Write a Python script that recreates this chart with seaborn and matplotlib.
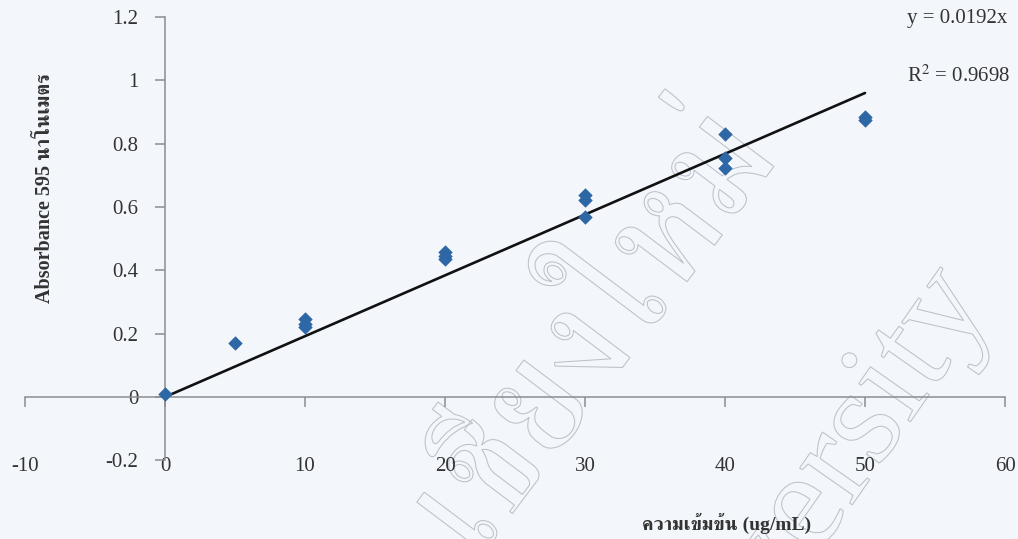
import numpy as np
import pandas as pd
import matplotlib
matplotlib.use("Agg")
import matplotlib.pyplot as plt
import seaborn as sns
from matplotlib import font_manager
from matplotlib.textpath import TextPath
from matplotlib.patches import PathPatch
from matplotlib.transforms import Affine2D, IdentityTransform

# Standard curve: protein concentration vs absorbance at 595 nm
concentration = [0, 5, 10, 10, 10, 20, 20, 20, 30, 30, 30, 40, 40, 40, 50, 50]
absorbance = [0.008, 0.17, 0.245, 0.232, 0.22, 0.458, 0.446, 0.436,
              0.638, 0.622, 0.568, 0.83, 0.755, 0.723, 0.884, 0.876]
slope = 0.0192
r_squared = 0.9698

x_ticks = [-10, 0, 10, 20, 30, 40, 50, 60]
y_ticks = [-0.2, 0, 0.2, 0.4, 0.6, 0.8, 1, 1.2]
x_tick_labels = ["-10", "0", "10", "20", "30", "40", "50", "60"]
y_tick_labels = ["-0.2", "0", "0.2", "0.4", "0.6", "0.8", "1", "1.2"]

x_title = "ความเข้มข้น (ug/mL)"
y_title = "Absorbance 595 นาโนเมตร"


def find_thai_family():
    try:
        from fontTools.ttLib import TTFont
    except Exception:
        return None
    sample = "ความเข้มข้นาโนเมตรชียงใหม่"
    found = []
    for entry in font_manager.fontManager.ttflist:
        try:
            f = TTFont(entry.fname, fontNumber=0, lazy=True)
            cmap = f.getBestCmap()
            if all(ord(c) in cmap for c in sample):
                found.append(entry.name)
        except Exception:
            continue
    if not found:
        return None
    serif = [n for n in found if "Serif" in n]
    return (serif or found)[0]


thai_family = find_thai_family()
serif_stack = ["Liberation Serif", "DejaVu Serif"]
mixed_stack = ["Liberation Serif"] + ([thai_family] if thai_family else []) + ["DejaVu Sans"]

sns.set_style("white")
bg = "#f3f6fb"
plt.rcParams["font.family"] = serif_stack
plt.rcParams["axes.unicode_minus"] = False
plt.rcParams["mathtext.fontset"] = "stix"

W, H = 1018, 539
fig = plt.figure(figsize=(W / 100, H / 100), dpi=100, facecolor=bg)
ax = fig.add_axes([25 / W, 1 - 460.3 / H, 980 / W, 443.3 / H])
ax.set_facecolor(bg)
ax.set_zorder(2)
ax.patch.set_alpha(0)

df = pd.DataFrame({"conc": concentration, "abs": absorbance})

# Linear trendline through the origin
fit_x = np.array([0, max(concentration)])
ax.plot(fit_x, slope * fit_x, color="#111111", lw=1.9, zorder=3)

sns.scatterplot(data=df, x="conc", y="abs", ax=ax, marker="D", s=48,
                color="#2e67a6", edgecolor="#2e67a6", linewidth=0.4, zorder=4)

ax.set_xlim(-10, 60)
ax.set_ylim(-0.2, 1.2)
ax.set_xlabel("")
ax.set_ylabel("")

for side in ["top", "right"]:
    ax.spines[side].set_visible(False)
ax.spines["left"].set_position(("data", 0))
ax.spines["bottom"].set_position(("data", 0))
for side in ["left", "bottom"]:
    ax.spines[side].set_color("#8a8d92")
    ax.spines[side].set_linewidth(1.1)

ax.set_xticks(x_ticks)
ax.set_xticklabels(x_tick_labels)
ax.set_yticks(y_ticks)
ax.set_yticklabels(y_tick_labels)
ax.tick_params(axis="x", bottom=True, direction="out", length=7, width=1.1,
               color="#8a8d92", pad=36, labelsize=15, labelcolor="#333333")
ax.tick_params(axis="y", left=True, direction="out", length=7, width=1.1,
               color="#8a8d92", pad=12, labelsize=15, labelcolor="#333333")

# Axis titles
fig.text(45 / W, 1 - 188 / H, y_title, rotation=90, ha="center", va="center",
         fontsize=14.5, fontweight="bold", color="#333333", family=mixed_stack)
fig.text(727 / W, 1 - 523 / H, x_title, ha="center", va="center",
         fontsize=14, fontweight="bold", color="#333333", family=mixed_stack)

# Trendline equation
fig.text(907 / W, 1 - 19 / H, f"y = {slope:.4f}x", ha="left", va="center",
         fontsize=15, color="#333333")
fig.text(907 / W, 1 - 76 / H, f"R$^2$ = {r_squared:.4f}", ha="left", va="center",
         fontsize=15, color="#333333")


# Outlined watermark text
def outline_text(text, family, size, angle, start, skip=""):
    prop = font_manager.FontProperties(family=family)
    path = TextPath((0, 0), text, size=size, prop=prop)
    offset = 0.0
    if skip:
        offset = TextPath((0, 0), skip, size=size, prop=prop).get_extents().x1
    a = np.deg2rad(angle)
    x0 = start[0] - offset * np.cos(a)
    y0 = (H - start[1]) - offset * np.sin(a)
    tr = Affine2D().rotate_deg(angle).translate(x0, y0)
    patch = PathPatch(tr.transform_path(path), facecolor="none",
                      edgecolor="#bcc1ca", lw=0.75, transform=IdentityTransform(),
                      zorder=1)
    fig.add_artist(patch)


if thai_family:
    outline_text("เชียงใหม่", thai_family, 158, 53, (500, 530), skip="เ")
outline_text("University", "Liberation Serif", 140, 55, (815, 558), skip="Univ")

fig.savefig("out.png", dpi=100, facecolor=bg)
